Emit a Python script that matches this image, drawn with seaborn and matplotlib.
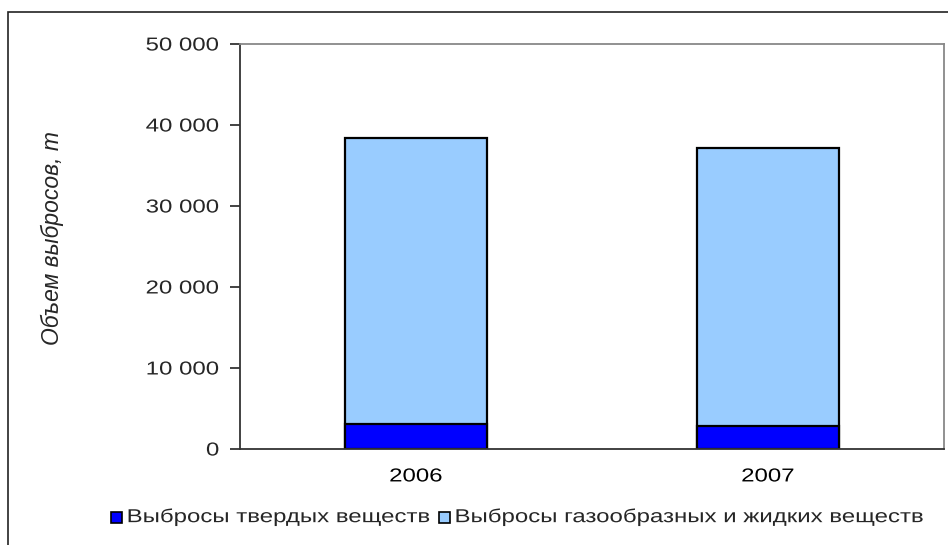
import matplotlib
matplotlib.use("Agg")
import matplotlib.pyplot as plt
from matplotlib.patches import Rectangle
from matplotlib.patheffects import AbstractPathEffect
from matplotlib.transforms import Affine2D
from matplotlib.ticker import FuncFormatter, FixedLocator
import seaborn as sns
import pandas as pd

years = ["2006", "2007"]
solid = [3050, 2900]
gas_liquid = [35300, 34300]
series_names = ["Выбросы твердых веществ", "Выбросы газообразных и жидких веществ"]
y_label = "Объем выбросов, т"

df = pd.DataFrame({"year": years, "solid": solid, "gas": gas_liquid})
df["total"] = df["solid"] + df["gas"]


class StretchX(AbstractPathEffect):
    # the source picture is stretched sideways, so widen the glyphs a bit
    def __init__(self, sx=1.28, anchor="center"):
        super().__init__()
        self.sx = sx
        self.anchor = anchor

    def draw_path(self, renderer, gc, tpath, affine, rgbFace=None):
        ext = tpath.get_extents()
        a = {"left": ext.x0, "right": ext.x1, "center": 0.5 * (ext.x0 + ext.x1)}[self.anchor]
        tr = Affine2D().translate(-a, 0).scale(self.sx, 1).translate(a, 0) + affine
        renderer.draw_path(gc, tpath, tr, rgbFace)


SX = 1.28
FS = 13.5

sns.set_style("white")
plt.rcParams["font.family"] = ["Liberation Sans", "DejaVu Sans"]

fig = plt.figure(figsize=(9.48, 5.45), dpi=100)
ax = fig.add_axes([240 / 948, 1 - 449 / 545, 704 / 948, 405 / 545])

c_solid = "#0000FF"
c_gas = "#99CCFF"

# stacked: total first, solid drawn over it from zero
sns.barplot(data=df, x="year", y="total", color=c_gas, saturation=1, width=0.406,
            edgecolor="black", linewidth=1.6, ax=ax)
sns.barplot(data=df, x="year", y="solid", color=c_solid, saturation=1, width=0.406,
            edgecolor="black", linewidth=1.6, ax=ax)

ax.set_xlim(-0.5, 1.5)
ax.set_ylim(0, 50000)
ax.set_yticks(range(0, 50001, 10000))
ax.yaxis.set_major_formatter(FuncFormatter(lambda v, p: f"{int(v):,}".replace(",", " ")))
ax.xaxis.set_minor_locator(FixedLocator([-0.5, 0.5, 1.5]))
ax.tick_params(axis="x", which="major", length=0, pad=14, labelsize=FS, colors="black")
ax.tick_params(axis="x", which="minor", length=6, width=1.2, color="#222222", direction="out")
ax.tick_params(axis="y", length=7, width=1.2, color="#222222", direction="out", pad=8,
               labelsize=FS, left=True)
for t in ax.get_yticklabels():
    t.set_path_effects([StretchX(SX, "right")])
for t in ax.get_xticklabels():
    t.set_path_effects([StretchX(SX, "center")])

ax.set_xlabel("")
ax.set_ylabel(y_label, fontsize=16.5, style="italic")
ax.yaxis.set_label_coords(-0.25, 0.52)

for s in ["left", "bottom"]:
    ax.spines[s].set_color("#333333")
    ax.spines[s].set_linewidth(1.3)
for s in ["top", "right"]:
    ax.spines[s].set_visible(True)
    ax.spines[s].set_color("#888888")
    ax.spines[s].set_linewidth(1.3)

# outer chart frame (cut by the image edge on the right and bottom)
fig.patches.append(Rectangle((8 / 948, -0.2), 1.5, 1.2 - 12 / 545, transform=fig.transFigure,
                             fill=False, edgecolor="#222222", linewidth=1.2, zorder=0))

# legend laid out by hand so the widened text does not overlap
renderer = fig.canvas.get_renderer()
leg_y = 517
sq = 11
labels = []
widths = []
for name in series_names:
    t = fig.text(0, 1 - leg_y / 545, name, fontsize=FS, ha="left", va="center",
                 path_effects=[StretchX(SX, "left")])
    labels.append(t)
    widths.append(t.get_window_extent(renderer).width * SX)
total = 2 * (sq + 5) + widths[0] + 9 + widths[1]
x = 517 - total / 2
for t, w, c in zip(labels, widths, [c_solid, c_gas]):
    fig.patches.append(Rectangle((x / 948, (545 - leg_y - sq / 2) / 545), sq / 948, sq / 545,
                                 transform=fig.transFigure, facecolor=c, edgecolor="black",
                                 linewidth=1.2))
    x += sq + 5
    t.set_x(x / 948)
    x += w + 9

fig.savefig("out.png", dpi=100)
